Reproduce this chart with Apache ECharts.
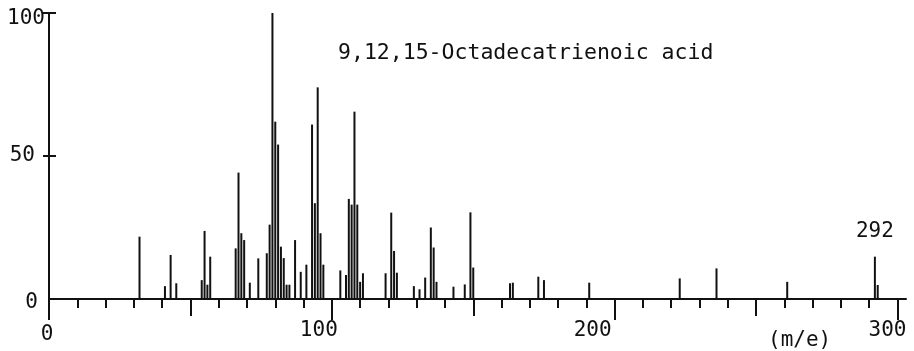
<!DOCTYPE html>
<html>
<head>
<meta charset="utf-8">
<script src="https://cdn.jsdelivr.net/npm/echarts@6/dist/echarts.min.js"></script>
<style>html,body{margin:0;padding:0;background:#fff;}#c{width:914px;height:351px;}</style>
</head>
<body>
<div id="c"></div>
<script>
const titleText = '9,12,15-Octadecatrienoic acid';
const masses = [32,41,43,45,54,55,56,57,66,67,68,69,71,74,77,78,79,80,81,82,83,84,85,87,89,91,93,94,95,96,97,103,105,106,107,108,109,110,111,119,121,122,123,129,131,133,135,136,137,143,147,149,150,163,164,173,175,191,223,236,261,292,293];
const intensities = [21.8,4.5,15.4,5.5,6.6,23.8,5,14.8,17.7,44.2,23,20.6,5.7,14.2,16,26,100,62,54,18.3,14.3,5,5,20.6,9.5,12,61,33.5,74,23,12,10,8.4,35,33,65.5,33,6,9,9,30.2,16.8,9.2,4.5,3.4,7.5,25,18,6,4.3,5.1,30.3,11,5.5,5.7,7.8,6.6,5.7,7.2,10.7,6,14.8,4.9];
const labeledMass = 292;
const xMajorTicks = [0,100,200,300];
const xMidTicks = [50,150,250];
const xMinorTicks = [10,20,30,40,60,70,80,90,110,120,130,140,160,170,180,190,210,220,230,240,260,270,280,290];
const yTicks = [0,50,100];
const xUnit = '(m/e)';

const FONT = 'DejaVu Sans Mono';
const INK = '#111';
const chart = echarts.init(document.getElementById('c'), null, {renderer:'canvas'});

const barData = masses.map((m,i)=>{
  const d = {value:[m,intensities[i]]};
  if (m === labeledMass) {
    d.label = {show:true, position:'top', distance:15, formatter:String(m), color:INK, fontFamily:FONT, fontSize:21};
  }
  return d;
});

const xBase = {type:'value', gridIndex:0, min:0, max:303, position:'bottom', splitLine:{show:false}};
const yPad = {100:'{a|100}', 50:'{b|50}', 0:'{c|0}'};
const xPad = {0:'{a|0}', 100:'{b|100}', 200:'{c|200}', 300:'{d|300}'};
const lblStyle = {color:INK, fontFamily:FONT, fontSize:21};

chart.setOption({
  backgroundColor:'#fff',
  animation:false,
  title:{text:titleText, left:338, top:42, padding:0, textStyle:{color:INK, fontFamily:FONT, fontSize:21.5, fontWeight:'normal'}},
  grid:{left:49, right:8, top:13, bottom:52, containLabel:false},
  xAxis:[
    Object.assign({}, xBase, {
      axisLine:{show:true, lineStyle:{color:INK, width:2}},
      axisTick:{show:true, inside:false, length:21, customValues:xMajorTicks, lineStyle:{color:INK, width:2}},
      axisLabel:{show:true, margin:21, customValues:xMajorTicks, formatter:v=>xPad[v],
        rich:{a:Object.assign({padding:[4,4,0,0]},lblStyle), b:Object.assign({padding:[0,26,0,0]},lblStyle), c:Object.assign({padding:[0,44,0,0]},lblStyle), d:Object.assign({padding:[0,20,0,0]},lblStyle)}}
    }),
    Object.assign({}, xBase, {
      axisLine:{show:false},
      axisTick:{show:true, inside:false, length:17, customValues:xMidTicks, lineStyle:{color:INK, width:2}},
      axisLabel:{show:false}
    }),
    Object.assign({}, xBase, {
      axisLine:{show:false},
      axisTick:{show:true, inside:false, length:9, customValues:xMinorTicks, lineStyle:{color:INK, width:2}},
      axisLabel:{show:false}
    })
  ],
  yAxis:[
    {type:'value', min:0, max:100, position:'left', splitLine:{show:false},
      axisLine:{show:true, lineStyle:{color:INK, width:2}},
      axisTick:{show:true, inside:false, length:6, customValues:[50,100], lineStyle:{color:INK, width:2}},
      axisLabel:{show:true, margin:4, customValues:yTicks, formatter:v=>yPad[v],
        rich:{a:Object.assign({padding:[12,0,0,0]},lblStyle), b:Object.assign({padding:[0,10,0,0]},lblStyle), c:Object.assign({padding:[8,7,0,0]},lblStyle)}}
    },
    {type:'value', min:0, max:100, position:'right', splitLine:{show:false},
      axisLine:{show:true, lineStyle:{color:INK, width:2}},
      axisTick:{show:true, inside:false, length:7, customValues:[50,100], lineStyle:{color:INK, width:2}},
      axisLabel:{show:false}
    }
  ],
  graphic:[
    {type:'text', left:768, top:330, style:{text:xUnit, fill:INK, font:'21px "DejaVu Sans Mono"'}}
  ],
  series:[
    {type:'bar', xAxisIndex:0, yAxisIndex:0, barWidth:2, data:barData, itemStyle:{color:INK}, silent:true}
  ]
});
</script>
</body>
</html>
